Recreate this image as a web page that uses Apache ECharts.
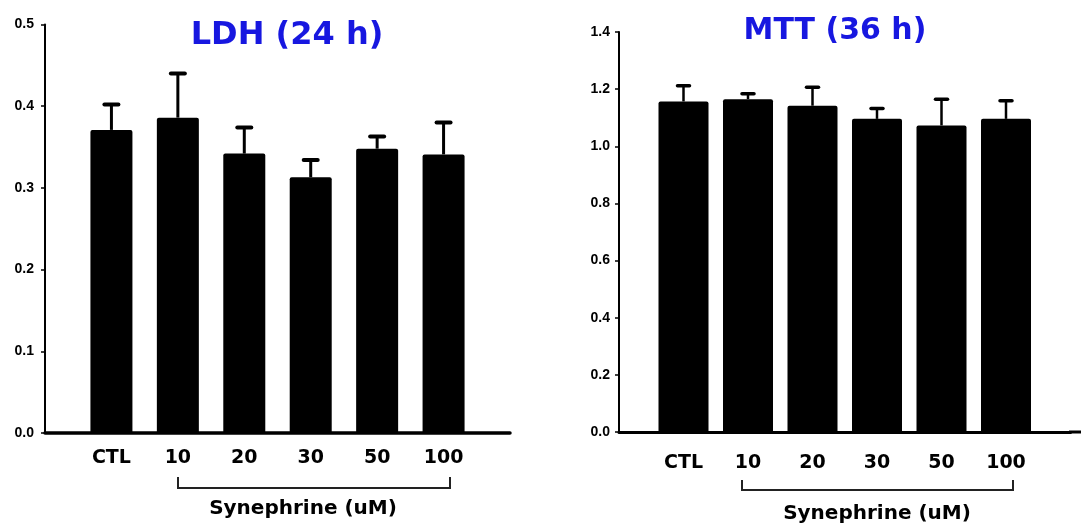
<!DOCTYPE html>
<html>
<head>
<meta charset="utf-8">
<script src="https://cdn.jsdelivr.net/npm/echarts@6/dist/echarts.min.js"></script>
<style>
html,body{margin:0;padding:0;background:#fff;}
#c{width:1081px;height:527px;}
</style>
</head>
<body>
<div id="c"></div>
<script>
// ---- data ----
const categories = ['CTL', '10', '20', '30', '50', '100'];
const ldhMean = [0.371, 0.386, 0.342, 0.313, 0.348, 0.341];
const ldhSD   = [0.031, 0.054, 0.032, 0.021, 0.015, 0.039];
const mttMean = [1.157, 1.165, 1.142, 1.096, 1.073, 1.096];
const mttSD   = [0.055, 0.019, 0.065, 0.036, 0.092, 0.063];
const ldhTicks = [0.0, 0.1, 0.2, 0.3, 0.4, 0.5];
const mttTicks = [0.0, 0.2, 0.4, 0.6, 0.8, 1.0, 1.2, 1.4];

// axis with padding slots at both ends
const axisCats = [''].concat(categories, ['']);

function errData(mean, sd) {
  return mean.map((m, i) => [categories[i], m, m + sd[i]]);
}

function errRender(lineW, capHalf, capW) {
  return function (params, api) {
    const x = api.value(0);
    const p0 = api.coord([x, api.value(1)]);
    const p1 = api.coord([x, api.value(2)]);
    return {
      type: 'group',
      children: [
        { type: 'line', shape: { x1: p0[0], y1: p0[1], x2: p1[0], y2: p1[1] },
          style: { stroke: '#000', lineWidth: lineW } },
        { type: 'line', shape: { x1: p1[0] - capHalf, y1: p1[1], x2: p1[0] + capHalf, y2: p1[1] },
          style: { stroke: '#000', lineWidth: capW, lineCap: 'round' } }
      ]
    };
  };
}

const chart = echarts.init(document.getElementById('c'), null, { renderer: 'canvas' });

const blue = '#1717e0';
const labFont = '"DejaVu Sans", sans-serif';

chart.setOption({
  backgroundColor: '#ffffff',
  animation: false,
  title: [
    { text: 'LDH (24 h)', left: 282, top: 15, textAlign: 'center',
      textStyle: { color: blue, fontSize: 32, fontWeight: 'bold', fontFamily: labFont } },
    { text: 'MTT (36 h)', left: 830, top: 11, textAlign: 'center',
      textStyle: { color: blue, fontSize: 30, fontWeight: 'bold', fontFamily: labFont } }
  ],
  grid: [
    { left: 45, right: 571, top: 24.5, bottom: 94 },
    { left: 619, right: 10.5, top: 32, bottom: 95 }
  ],
  xAxis: [
    { type: 'category', gridIndex: 0, data: axisCats, boundaryGap: false,
      axisLine: { lineStyle: { color: '#000', width: 3.5 } },
      axisTick: { show: false },
      axisLabel: { color: '#000', fontSize: 19, fontWeight: 'bold', fontFamily: labFont, margin: 16, interval: 0 } },
    { type: 'category', gridIndex: 1, data: axisCats, boundaryGap: false,
      axisLine: { lineStyle: { color: '#000', width: 3 } },
      axisTick: { show: false },
      axisLabel: { color: '#000', fontSize: 19, fontWeight: 'bold', fontFamily: labFont, margin: 22, interval: 0 } }
  ],
  yAxis: [
    { type: 'value', gridIndex: 0, min: ldhTicks[0], max: ldhTicks[ldhTicks.length - 1], interval: 0.1,
      splitLine: { show: false },
      axisLine: { show: true, lineStyle: { color: '#000', width: 2 } },
      axisTick: { show: true, length: 4, lineStyle: { color: '#000', width: 1.5 } },
      axisLabel: { color: '#000', fontSize: 14, fontWeight: 'bold', fontFamily: '"Liberation Sans", Arial, sans-serif', margin: 11,
        formatter: v => v.toFixed(1) } },
    { type: 'value', gridIndex: 1, min: mttTicks[0], max: mttTicks[mttTicks.length - 1], interval: 0.2,
      splitLine: { show: false },
      axisLine: { show: true, lineStyle: { color: '#000', width: 2 } },
      axisTick: { show: true, length: 4, lineStyle: { color: '#000', width: 1.5 } },
      axisLabel: { color: '#000', fontSize: 14, fontWeight: 'bold', fontFamily: '"Liberation Sans", Arial, sans-serif', margin: 9,
        formatter: v => v.toFixed(1) } }
  ],
  series: [
    { type: 'bar', xAxisIndex: 0, yAxisIndex: 0, barWidth: 42,
      data: ldhMean.map((m, i) => [categories[i], m]),
      itemStyle: { color: '#000', borderRadius: [2, 2, 0, 0] }, z: 2 },
    { type: 'custom', xAxisIndex: 0, yAxisIndex: 0, data: errData(ldhMean, ldhSD),
      encode: { x: 0, y: [1, 2] }, renderItem: errRender(3, 7, 4), z: 3 },
    { type: 'bar', xAxisIndex: 1, yAxisIndex: 1, barWidth: 50,
      data: mttMean.map((m, i) => [categories[i], m]),
      itemStyle: { color: '#000', borderRadius: [2, 2, 0, 0] }, z: 2 },
    { type: 'custom', xAxisIndex: 1, yAxisIndex: 1, data: errData(mttMean, mttSD),
      encode: { x: 0, y: [1, 2] }, renderItem: errRender(2.5, 6, 3.5), z: 3 }
  ],
  graphic: [
    { type: 'polyline', shape: { points: [[178, 477], [178, 488], [450, 488], [450, 477]] },
      style: { stroke: '#222', lineWidth: 2, fill: null } },
    { type: 'text', x: 303, y: 509,
      style: { text: 'Synephrine (uM)', fill: '#000', font: 'bold 20px "DejaVu Sans", sans-serif',
        textAlign: 'center', textVerticalAlign: 'middle' } },
    { type: 'polyline', shape: { points: [[742, 480], [742, 490], [1013, 490], [1013, 480]] },
      style: { stroke: '#222', lineWidth: 2, fill: null } },
    { type: 'text', x: 877, y: 514,
      style: { text: 'Synephrine (uM)', fill: '#000', font: 'bold 20px "DejaVu Sans", sans-serif',
        textAlign: 'center', textVerticalAlign: 'middle' } },
    { type: 'line', shape: { x1: 1069, y1: 432, x2: 1081, y2: 432 },
      style: { stroke: '#000', lineWidth: 3 } }
  ]
});
</script>
</body>
</html>
